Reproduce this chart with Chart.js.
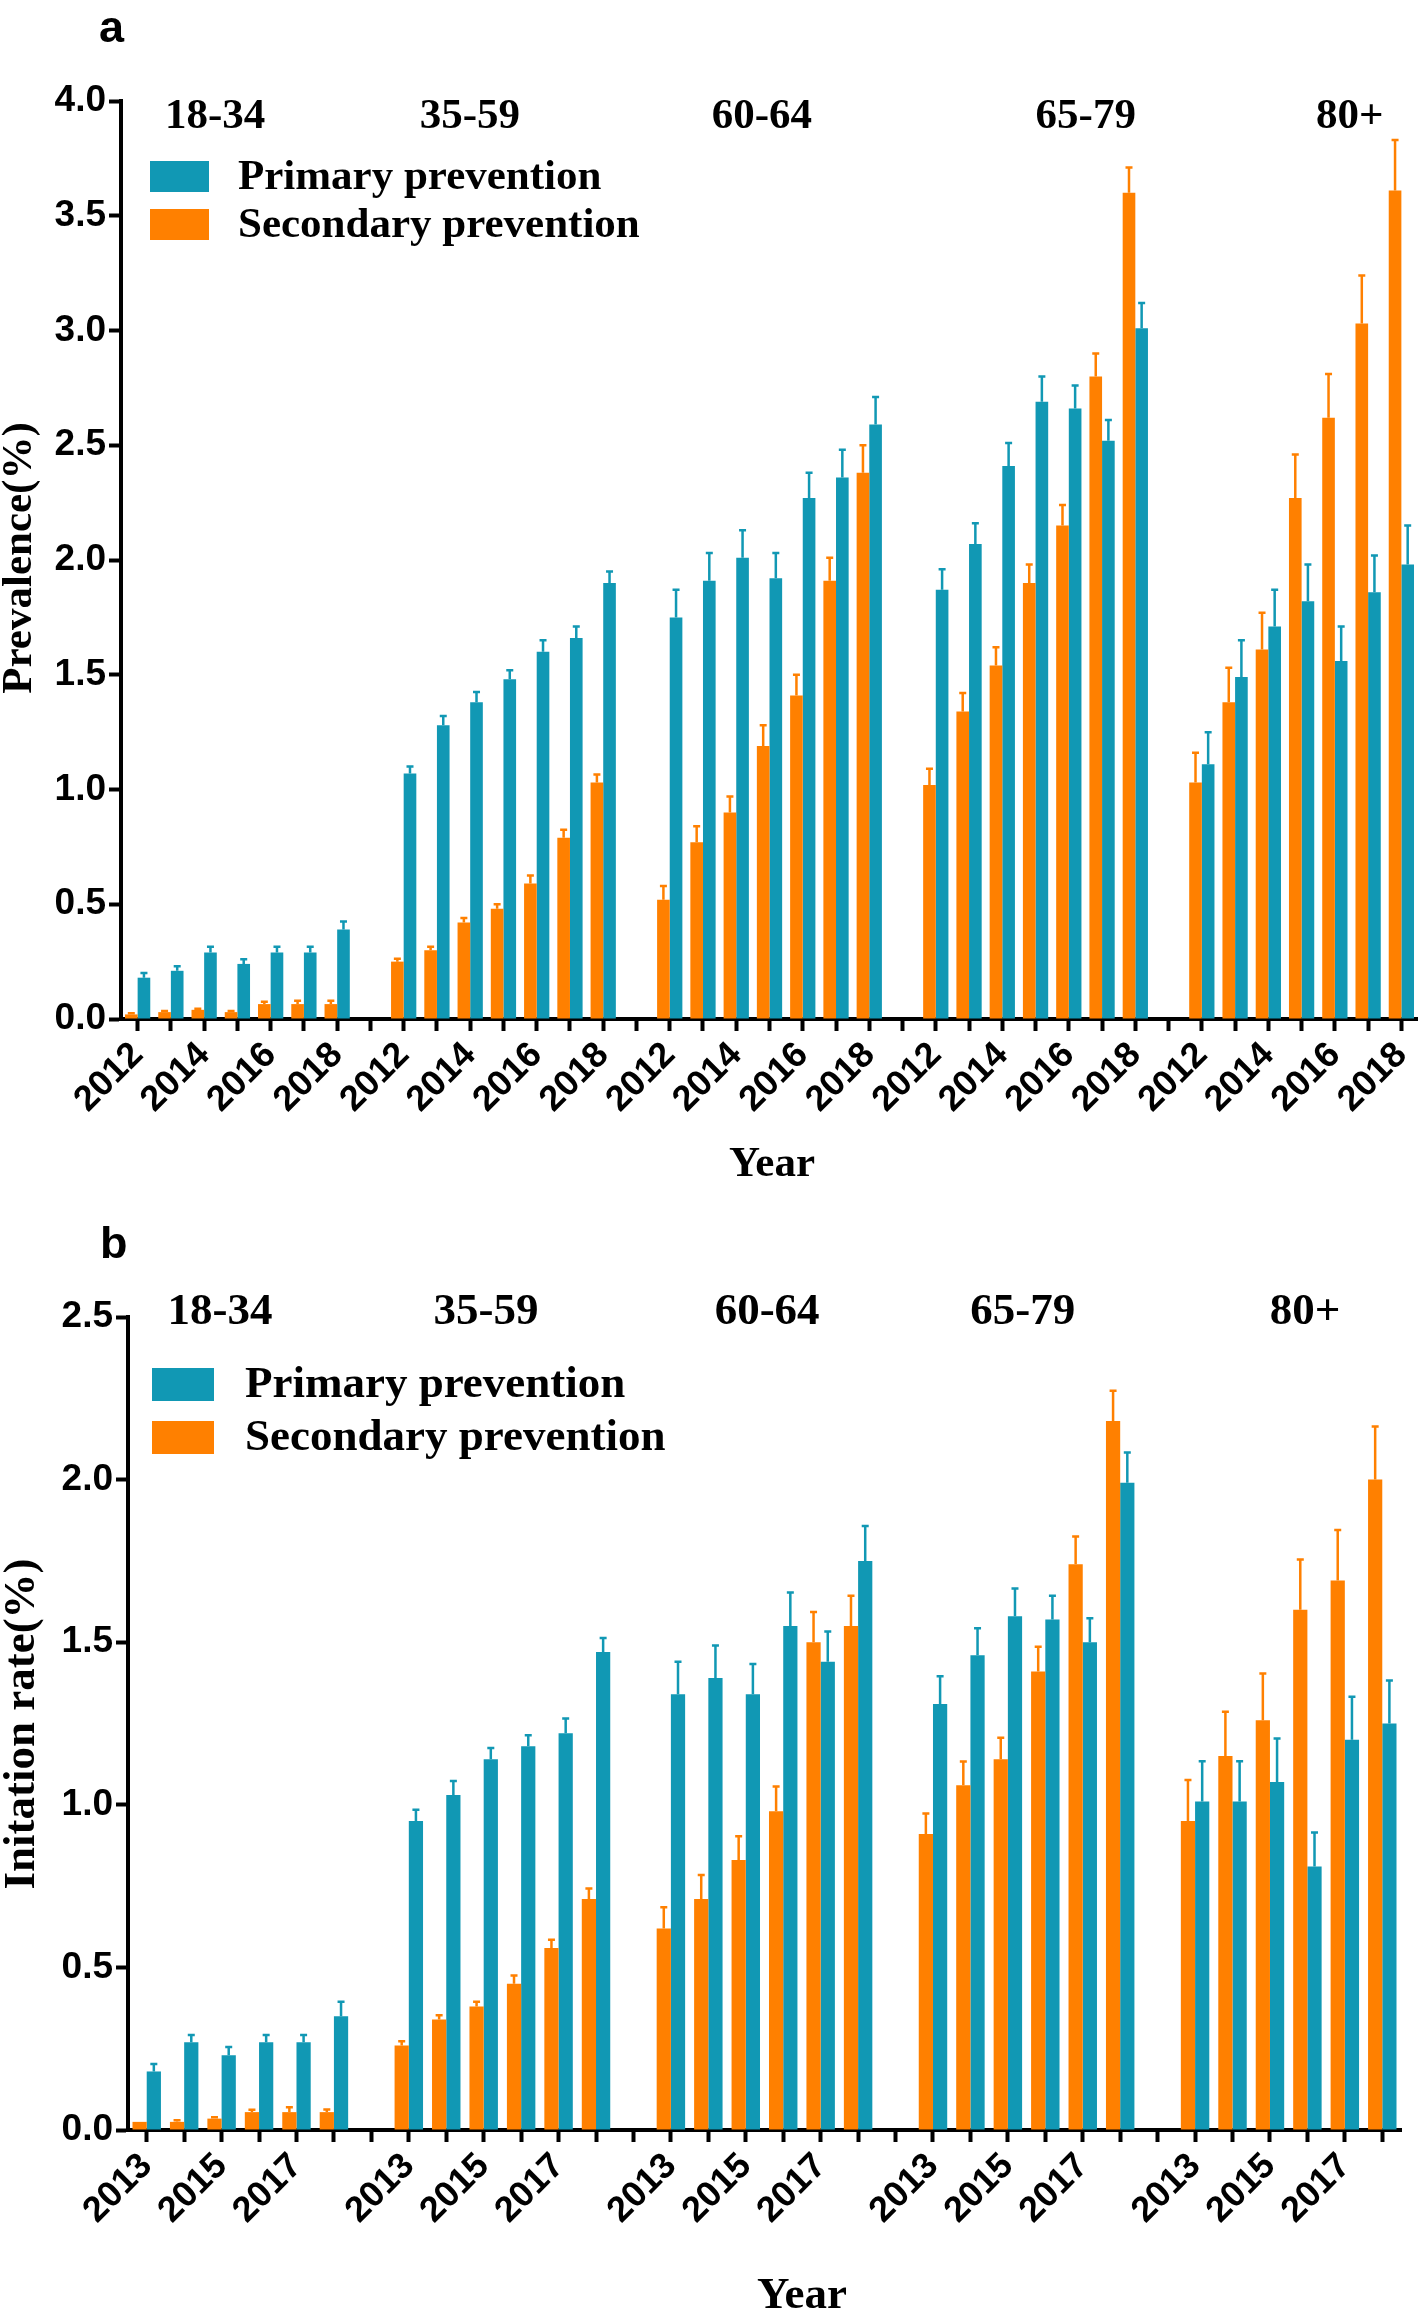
<!DOCTYPE html>
<html>
<head>
<meta charset="utf-8">
<script src="https://cdn.jsdelivr.net/npm/chart.js@4/dist/chart.umd.min.js"></script>
<style>
  html, body { margin: 0; padding: 0; background: #fff; }
  .panel { position: absolute; left: 0; width: 1418px; }
  #wrapA { top: 0; height: 1190px; }
  #wrapB { top: 1190px; height: 1126px; }
</style>
</head>
<body>
<div class="panel" id="wrapA"><canvas id="chartA" width="1418" height="1190"></canvas></div>
<div class="panel" id="wrapB"><canvas id="chartB" width="1418" height="1126"></canvas></div>
<script>
// --- data ---
const ageGroups = ['18-34', '35-59', '60-64', '65-79', '80+'];

// panel a : prevalence (%)
const yearsA = ['2012', '2013', '2014', '2015', '2016', '2017', '2018'];
const shownYearsA = ['2012', '2014', '2016', '2018'];
const primaryA = [
  [0.18, 0.21, 0.29, 0.24, 0.29, 0.29, 0.39],
  [1.07, 1.28, 1.38, 1.48, 1.60, 1.66, 1.90],
  [1.75, 1.91, 2.01, 1.92, 2.27, 2.36, 2.59],
  [1.87, 2.07, 2.41, 2.69, 2.66, 2.52, 3.01],
  [1.11, 1.49, 1.71, 1.82, 1.56, 1.86, 1.98]
];
const primaryErrA = [
  [0.02, 0.02, 0.025, 0.02, 0.025, 0.025, 0.035],
  [0.03, 0.04, 0.045, 0.04, 0.05, 0.05, 0.05],
  [0.12, 0.12, 0.12, 0.11, 0.11, 0.12, 0.12],
  [0.09, 0.09, 0.10, 0.11, 0.10, 0.09, 0.11],
  [0.14, 0.16, 0.16, 0.16, 0.15, 0.16, 0.17]
];
const secondaryA = [
  [0.02, 0.03, 0.04, 0.03, 0.065, 0.065, 0.065],
  [0.25, 0.30, 0.42, 0.48, 0.59, 0.79, 1.03],
  [0.52, 0.77, 0.90, 1.19, 1.41, 1.91, 2.38],
  [1.02, 1.34, 1.54, 1.90, 2.15, 2.80, 3.60],
  [1.03, 1.38, 1.61, 2.27, 2.62, 3.03, 3.61]
];
const secondaryErrA = [
  [0.005, 0.005, 0.005, 0.005, 0.01, 0.015, 0.015],
  [0.012, 0.015, 0.02, 0.02, 0.035, 0.035, 0.035],
  [0.06, 0.07, 0.07, 0.09, 0.09, 0.10, 0.12],
  [0.07, 0.08, 0.08, 0.08, 0.09, 0.10, 0.11],
  [0.13, 0.15, 0.16, 0.19, 0.19, 0.21, 0.22]
];

// panel b : initiation rate (%)
const yearsB = ['2013', '2014', '2015', '2016', '2017', '2018'];
const shownYearsB = ['2013', '2015', '2017'];
const primaryB = [
  [0.18, 0.27, 0.23, 0.27, 0.27, 0.35],
  [0.95, 1.03, 1.14, 1.18, 1.22, 1.47],
  [1.34, 1.39, 1.34, 1.55, 1.44, 1.75],
  [1.31, 1.46, 1.58, 1.57, 1.50, 1.99],
  [1.01, 1.01, 1.07, 0.81, 1.20, 1.25]
];
const primaryErrB = [
  [0.023, 0.022, 0.025, 0.022, 0.022, 0.044],
  [0.035, 0.043, 0.035, 0.034, 0.045, 0.043],
  [0.10, 0.10, 0.093, 0.103, 0.093, 0.107],
  [0.085, 0.083, 0.085, 0.073, 0.074, 0.093],
  [0.124, 0.124, 0.134, 0.105, 0.132, 0.132]
];
const secondaryB = [
  [0.025, 0.025, 0.035, 0.055, 0.055, 0.055],
  [0.26, 0.34, 0.38, 0.45, 0.56, 0.71],
  [0.62, 0.71, 0.83, 0.98, 1.50, 1.55],
  [0.91, 1.06, 1.14, 1.41, 1.74, 2.18],
  [0.95, 1.15, 1.26, 1.60, 1.69, 2.00]
];
const secondaryErrB = [
  [0.0, 0.005, 0.004, 0.007, 0.015, 0.008],
  [0.013, 0.013, 0.014, 0.025, 0.025, 0.033],
  [0.065, 0.074, 0.073, 0.076, 0.093, 0.093],
  [0.063, 0.073, 0.066, 0.076, 0.085, 0.093],
  [0.126, 0.136, 0.144, 0.154, 0.155, 0.163]
];

const BLUE = '#1198b4';
const ORANGE = '#ff8000';

// groups are laid one after the other with an empty category between them
function flatten(perGroup) {
  const out = [];
  perGroup.forEach((vals, g) => {
    if (g > 0) out.push(null);
    vals.forEach(v => out.push(v));
  });
  return out;
}

function buildLabels(years) {
  const out = [];
  ageGroups.forEach((_, g) => {
    if (g > 0) out.push('');
    years.forEach(y => out.push(y));
  });
  return out;
}

// --- error bars (upper side only, like the figure) ---
const errorBars = {
  id: 'errorBars',
  afterDatasetsDraw(chart) {
    const ctx = chart.ctx;
    const yScale = chart.scales.y;
    chart.data.datasets.forEach((ds, i) => {
      const meta = chart.getDatasetMeta(i);
      meta.data.forEach((bar, j) => {
        const v = ds.data[j];
        const e = ds.errors[j];
        if (v == null || !e) return;
        const top = yScale.getPixelForValue(v + e);
        ctx.save();
        ctx.strokeStyle = ds.backgroundColor;
        ctx.lineWidth = 2.5;
        ctx.beginPath();
        ctx.moveTo(bar.x, bar.y);
        ctx.lineTo(bar.x, top);
        ctx.moveTo(bar.x - 3.5, top);
        ctx.lineTo(bar.x + 3.5, top);
        ctx.stroke();
        ctx.restore();
      });
    });
  }
};

// --- texts around the plot: panel letter, age groups, legend, axis titles ---
const overlay = {
  id: 'overlay',
  afterDraw(chart, args, o) {
    const ctx = chart.ctx;
    const xScale = chart.scales.x;
    ctx.save();
    ctx.fillStyle = '#000';

    ctx.font = 'bold 45px "Liberation Sans"';
    ctx.textAlign = 'left';
    ctx.textBaseline = 'alphabetic';
    ctx.fillText(o.letter, o.letterX, o.letterY);

    ctx.font = 'bold ' + o.serifSize + 'px "Liberation Serif"';
    ctx.textAlign = 'center';
    ctx.textBaseline = 'middle';
    ageGroups.forEach((g, i) => {
      ctx.fillText(g, xScale.getPixelForValue(o.groupPos[i]), o.groupY);
    });

    // legend, primary first
    ctx.textAlign = 'left';
    [1, 0].forEach((di, row) => {
      const ds = chart.data.datasets[di];
      const top = o.legendTop + row * o.legendStep;
      ctx.fillStyle = ds.backgroundColor;
      ctx.fillRect(o.legendX, top, o.boxW, o.boxH);
      ctx.fillStyle = '#000';
      ctx.fillText(ds.label, o.legendTextX, top + o.boxH / 2 + 1);
    });

    ctx.textAlign = 'center';
    ctx.fillText('Year', o.xTitleX, o.xTitleY);

    ctx.translate(o.yTitleX, o.yTitleY);
    ctx.rotate(-Math.PI / 2);
    ctx.fillText(o.yTitle, 0, 0);
    ctx.restore();
  }
};

function makeChart(id, cfg) {
  const labels = buildLabels(cfg.years);
  return new Chart(document.getElementById(id), {
    type: 'bar',
    data: {
      labels: labels,
      datasets: [
        { label: 'Secondary prevention', data: flatten(cfg.secondary), errors: flatten(cfg.secondaryErr),
          backgroundColor: ORANGE, categoryPercentage: 0.76, barPercentage: 1.0 },
        { label: 'Primary prevention', data: flatten(cfg.primary), errors: flatten(cfg.primaryErr),
          backgroundColor: BLUE, categoryPercentage: 0.76, barPercentage: 1.0 }
      ]
    },
    options: {
      responsive: false,
      animation: false,
      layout: { padding: { left: 0, right: cfg.padRight, top: cfg.padTop, bottom: 0 } },
      plugins: {
        legend: { display: false },
        tooltip: { enabled: false },
        overlay: cfg.overlay
      },
      scales: {
        x: {
          offset: true,
          grid: { offset: false, drawOnChartArea: false, drawTicks: true, tickLength: 12, tickWidth: 4, tickColor: '#000' },
          border: { display: true, width: 4, color: '#000' },
          ticks: {
            autoSkip: false, minRotation: 45, maxRotation: 45, padding: 3, color: '#000',
            font: { family: 'Liberation Sans', size: 36, weight: 'bold' },
            callback: function (value) {
              const lab = this.getLabelForValue(value);
              return cfg.shownYears.includes(lab) ? lab : '';
            }
          },
          afterFit: s => { s.height = cfg.xHeight; s.paddingLeft = 0; s.paddingRight = 0; }
        },
        y: {
          min: 0, max: cfg.yMax,
          grid: { drawOnChartArea: false, drawTicks: true, tickLength: 12, tickWidth: 4, tickColor: '#000' },
          border: { display: true, width: 4, color: '#000' },
          ticks: {
            stepSize: 0.5, padding: 3, color: '#000',
            font: { family: 'Liberation Sans', size: 37, weight: 'bold' },
            callback: v => v.toFixed(1)
          },
          afterFit: s => { s.width = cfg.yWidth; }
        }
      }
    },
    plugins: [errorBars, overlay]
  });
}

makeChart('chartA', {
  years: yearsA, shownYears: shownYearsA,
  primary: primaryA, primaryErr: primaryErrA, secondary: secondaryA, secondaryErr: secondaryErrA,
  yMax: 4, padTop: 101, padRight: 0, xHeight: 171, yWidth: 121,
  overlay: {
    letter: 'a', letterX: 99, letterY: 42, serifSize: 43,
    groupPos: [2.33, 9.99, 18.77, 28.51, 36.45], groupY: 117,
    legendX: 150, legendTop: 161, legendStep: 48, boxW: 59, boxH: 31, legendTextX: 238,
    xTitleX: 772, xTitleY: 1165,
    yTitle: 'Prevalence(%)', yTitleX: 20, yTitleY: 558
  }
});

makeChart('chartB', {
  years: yearsB, shownYears: shownYearsB,
  primary: primaryB, primaryErr: primaryErrB, secondary: secondaryB, secondaryErr: secondaryErrB,
  yMax: 2.5, padTop: 127, padRight: 17, xHeight: 186, yWidth: 128,
  overlay: {
    letter: 'b', letterX: 100, letterY: 68, serifSize: 45,
    groupPos: [1.96, 9.06, 16.57, 23.4, 30.94], groupY: 122,
    legendX: 152, legendTop: 178, legendStep: 53, boxW: 62, boxH: 33, legendTextX: 245,
    xTitleX: 802, xTitleY: 1106,
    yTitle: 'Initation rate(%)', yTitleX: 22, yTitleY: 534
  }
});
</script>
</body>
</html>
